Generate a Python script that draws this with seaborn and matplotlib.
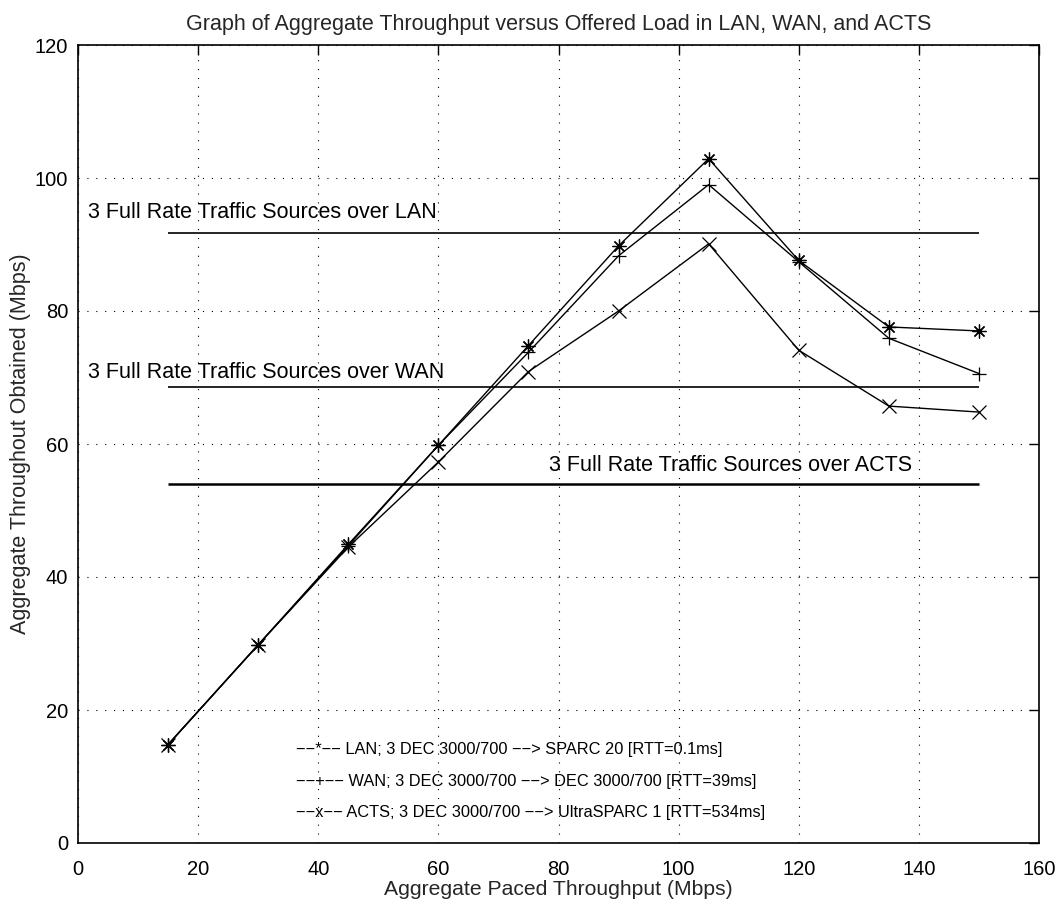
import numpy as np
import pandas as pd
import matplotlib
matplotlib.use("Agg")
import matplotlib.pyplot as plt
import seaborn as sns

# ---- data ----
paced = [15, 30, 45, 60, 75, 90, 105, 120, 135, 150]
lan = [14.8, 29.8, 44.9, 59.8, 74.8, 89.8, 102.9, 87.6, 77.6, 77.0]
wan = [14.8, 29.8, 44.7, 59.8, 73.8, 88.3, 99.0, 87.4, 75.9, 70.6]
acts = [14.8, 29.8, 44.5, 57.3, 70.9, 80.0, 90.1, 74.1, 65.7, 64.8]

series_names = ["LAN", "WAN", "ACTS"]
ref_levels = [91.8, 68.6, 54.0]
ref_labels = ["3 Full Rate Traffic Sources over LAN",
              "3 Full Rate Traffic Sources over WAN",
              "3 Full Rate Traffic Sources over ACTS"]
ref_label_pos = [(1.7, 94.8), (1.7, 70.8), (78.5, 56.8)]
ref_xrange = (15, 150)

legend_lines = ["\u2212\u2212*\u2212\u2212 LAN; 3 DEC 3000/700 \u2212\u2212> SPARC 20 [RTT=0.1ms]",
                "\u2212\u2212+\u2212\u2212 WAN; 3 DEC 3000/700 \u2212\u2212> DEC 3000/700 [RTT=39ms]",
                "\u2212\u2212x\u2212\u2212 ACTS; 3 DEC 3000/700 \u2212\u2212> UltraSPARC 1 [RTT=534ms]"]
legend_pos = [(36.3, 14.0), (36.3, 9.2), (36.3, 4.6)]

title = "Graph of Aggregate Throughput versus Offered Load in LAN, WAN, and ACTS"
xlabel = "Aggregate Paced Throughput (Mbps)"
ylabel = "Aggregate Throughout Obtained (Mbps)"

df = pd.DataFrame({
    "paced": paced * 3,
    "obtained": lan + wan + acts,
    "net": ["LAN"] * len(paced) + ["WAN"] * len(paced) + ["ACTS"] * len(paced),
})

sns.set_theme(style="white")
plt.rcParams["font.family"] = ["Liberation Sans", "DejaVu Sans"]

fig = plt.figure(figsize=(10.62, 9.09), dpi=100)
ax = fig.add_axes([78 / 1062, (909 - 843) / 909, (1039 - 78) / 1062, (843 - 45) / 909])

sns.lineplot(data=df, x="paced", y="obtained", hue="net", style="net",
             markers={"LAN": (8, 2, 0), "WAN": "+", "ACTS": "x"},
             dashes=False, palette={"LAN": "black", "WAN": "black", "ACTS": "black"},
             linewidth=1.0, markersize=10, markeredgewidth=0.9,
             markeredgecolor="black",
             legend=False, ax=ax, sort=False)

for lvl, lw in zip(ref_levels, [1.2, 1.2, 1.8]):
    ax.hlines(lvl, ref_xrange[0], ref_xrange[1], color="black", linewidth=lw)
for lab, (tx, ty) in zip(ref_labels, ref_label_pos):
    ax.text(tx, ty, lab, fontsize=15.5, ha="left", va="center", color="black")
for lab, (tx, ty) in zip(legend_lines, legend_pos):
    ax.text(tx, ty, lab, fontsize=11.8, ha="left", va="center", color="black")

ax.set_xlim(0, 160)
ax.set_ylim(0, 120)
ax.set_xticks(np.arange(0, 161, 20))
ax.set_yticks(np.arange(0, 121, 20))
ax.grid(True, linestyle=(0, (1, 7)), color="black", linewidth=0.8)
ax.tick_params(direction="in", length=7, width=1, top=True, right=True,
               labelsize=14.5, colors="black")
ax.tick_params(axis="x", pad=12)
ax.tick_params(axis="y", pad=7)
for sp in ax.spines.values():
    sp.set_color("black")
    sp.set_linewidth(1.2)
ax.set_title(title, fontsize=15.5, pad=11)
ax.set_xlabel(xlabel, fontsize=15.2, labelpad=1)
ax.set_ylabel(ylabel, fontsize=15.5, labelpad=3)

fig.savefig("out.png", dpi=100, facecolor="white")
